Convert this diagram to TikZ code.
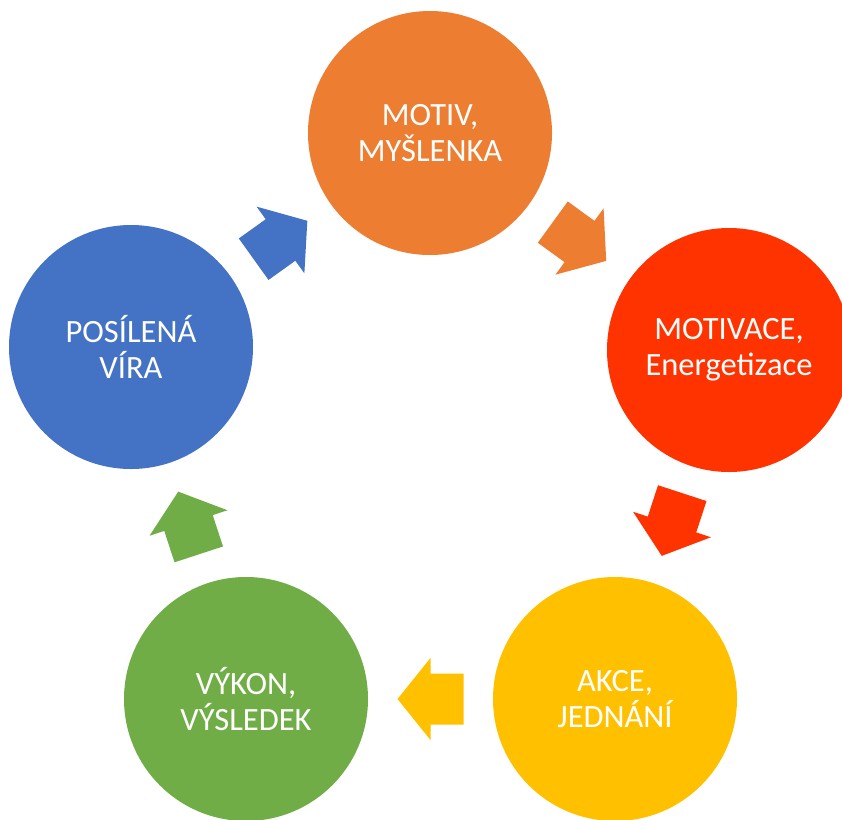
\documentclass[tikz,border=0pt]{standalone}
\usepackage{fontspec}
\setmainfont{Carlito}
\usetikzlibrary{calc}
\definecolor{corange}{HTML}{ED7D31}
\definecolor{cred}{HTML}{FF3300}
\definecolor{cyellow}{HTML}{FFC000}
\definecolor{cgreen}{HTML}{70AD47}
\definecolor{cblue}{HTML}{4472C4}
\newcommand\blockarrow[3]{%
  \coordinate (M) at ($(#1.center)!0.5!(#2.center)$);
  \coordinate (T) at ($(M)!33pt!(#1.center)$);
  \fill[#3] ($(M)!33pt!(#2.center)$) -- ($(M)!41pt!90:(#2.center)$) -- ($(M)!25.5pt!90:(#2.center)$)
    -- ($(T)!25.5pt!90:(#2.center)$) -- ($(T)!25.5pt!-90:(#2.center)$) -- ($(M)!25.5pt!-90:(#2.center)$)
    -- ($(M)!41pt!-90:(#2.center)$) -- cycle;}
\begin{document}
\begin{tikzpicture}[x=1pt,y=-1pt,
  circ/.style={circle, minimum size=244pt, inner sep=0pt, text=white, align=center,
    font=\fontsize{32.5}{36}\selectfont}]
\useasboundingbox (0,0) rectangle (842,819);
\clip (0,0) rectangle (842,819);
\node[circ, fill=corange] (co) at (430,133) {MOTIV,\\MYŠLENKA};
\node[circ, fill=cred] (cr) at (729,350) {MOTIVACE,\\Energetizace};
\node[circ, fill=cyellow] (cy) at (615,699) {AKCE,\\JEDNÁNÍ};
\node[circ, fill=cgreen] (cg) at (246,699) {VÝKON,\\VÝSLEDEK};
\node[circ, fill=cblue] (cb) at (131,347) {POSÍLENÁ\\VÍRA};
\blockarrow{co}{cr}{corange}
\blockarrow{cr}{cy}{cred}
\blockarrow{cy}{cg}{cyellow}
\blockarrow{cg}{cb}{cgreen}
\blockarrow{cb}{co}{cblue}
\end{tikzpicture}
\end{document}
